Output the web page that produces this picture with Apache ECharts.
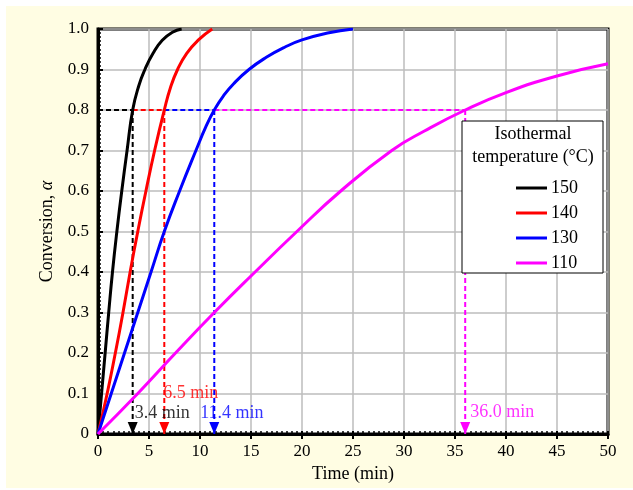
<!DOCTYPE html>
<html lang="en">
<head>
<meta charset="UTF-8">
<title>Conversion vs time</title>
<script src="https://cdn.jsdelivr.net/npm/echarts@6/dist/echarts.min.js"></script>
<style>
    body { margin: 0; background: #fff; }
    #bg { position: absolute; left: 6px; top: 6px; width: 627px; height: 482px; background: #FFFDE3; }
    #chart { position: absolute; left: 0; top: 0; width: 633px; height: 490px; }
</style>
</head>
<body>
<div id="bg"></div>
<div id="chart"></div>
<script>
// curves: time (min) / conversion
var t150 = [0, 0.35, 0.7, 1.05, 1.42, 1.85, 2.33, 2.85, 3.4, 4.0, 4.6, 5.4, 6.3, 7.3, 8.2];
var a150 = [0, 0.1, 0.2, 0.3, 0.4, 0.5, 0.6, 0.7, 0.8, 0.86, 0.9, 0.94, 0.972, 0.992, 1.0];
var t140 = [0, 0.9, 1.7, 2.45, 3.15, 3.9, 4.7, 5.55, 6.5, 7.1, 7.8, 8.7, 9.85, 11.2];
var a140 = [0, 0.1, 0.2, 0.3, 0.4, 0.5, 0.6, 0.7, 0.8, 0.855, 0.9, 0.94, 0.973, 1.0];
var t130 = [0, 1.3, 2.6, 3.9, 5.2, 6.5, 8.0, 9.6, 10.6, 11.4, 12.3, 13.3, 14.8, 16.5, 18.3, 20, 22.5, 25];
var a130 = [0, 0.1, 0.2, 0.3, 0.4, 0.5, 0.6, 0.7, 0.76, 0.8, 0.835, 0.865, 0.9, 0.93, 0.955, 0.973, 0.99, 1.0];
var t110 = [0, 3.9, 7.6, 11.4, 15.4, 19.5, 23.8, 28.8, 32, 36, 40, 45, 50];
var a110 = [0, 0.1, 0.2, 0.3, 0.4, 0.5, 0.6, 0.7, 0.748, 0.8, 0.843, 0.884, 0.914];

var names = ['150', '140', '130', '110'];
var colors = ['#000000', '#FF0000', '#0000FF', '#FF00FF'];
// time to reach conversion 0.8
var refLevel = 0.8;
var refTimes = [3.4, 6.5, 11.4, 36.0];
var refLabels = ['3.4 min', '6.5 min', '11.4 min', '36.0 min'];
// label offsets in px from the arrow tip
var labelOffsets = [[2, -21], [-1, -41], [-14, -21], [5, -22]];

var times = [t150, t140, t130, t110];
var alphas = [a150, a140, a130, a110];
var serif = 'Liberation Serif';

function pairs(t, a) {
    var out = [];
    for (var i = 0; i < t.length; i++) out.push([t[i], a[i]]);
    return out;
}

var series = [];
var dash = [5, 3];
for (var k = 0; k < 4; k++) {
    var start = k === 0 ? 0 : refTimes[k - 1];
    // horizontal dashed at 0.8
    series.push({
        type: 'line', symbol: 'none', silent: true, z: 3,
        data: [[start, refLevel], [refTimes[k], refLevel]],
        lineStyle: { color: colors[k], width: 2, type: dash }
    });
    // vertical dashed with arrow at the bottom
    series.push({
        type: 'line', silent: true, z: 3, showSymbol: true, clip: false,
        data: [
            { value: [refTimes[k], refLevel], symbol: 'none' },
            { value: [refTimes[k], 0], symbol: 'triangle', symbolRotate: 180, symbolSize: [10, 12], symbolOffset: [0, -6] }
        ],
        itemStyle: { color: colors[k] },
        lineStyle: { color: colors[k], width: 2, type: dash }
    });
    // label
    series.push({
        type: 'scatter', symbolSize: 0, silent: true, z: 6, clip: false,
        data: [[refTimes[k], 0]],
        label: {
            show: true, formatter: refLabels[k], position: labelOffsets[k],
            align: 'left', verticalAlign: 'middle',
            color: colors[k], fontFamily: serif, fontSize: 18
        }
    });
}
for (var k = 0; k < 4; k++) {
    series.push({
        name: names[k], type: 'line', symbol: 'none', smooth: 0.5, z: 4,
        data: pairs(times[k], alphas[k]),
        itemStyle: { color: colors[k] },
        lineStyle: { color: colors[k], width: 3 }
    });
}

var chart = echarts.init(document.getElementById('chart'));
chart.setOption({
    backgroundColor: 'transparent',
    animation: false,
    grid: { left: 98, top: 29, width: 510, height: 405, show: true, borderColor: '#000', borderWidth: 3, backgroundColor: '#fff' },
    xAxis: [{
        type: 'value', min: 0, max: 50, interval: 5,
        name: 'Time (min)', nameLocation: 'middle', nameGap: 30,
        nameTextStyle: { fontFamily: serif, fontSize: 18, color: '#000' },
        axisLine: { lineStyle: { color: '#000', width: 3 } },
        axisTick: { inside: true, length: 3, lineStyle: { color: '#000', width: 2 } },
        minorTick: { show: true, splitNumber: 10, length: 3, lineStyle: { color: '#000', width: 1.5 } },
        axisLabel: { fontFamily: serif, fontSize: 17, color: '#000', margin: 9 },
        splitLine: { lineStyle: { color: '#BDBDBD', width: 1.5 } }
    }, {
        type: 'value', min: 0, max: 50, interval: 5, position: 'bottom',
        axisLine: { show: false },
        axisTick: { inside: false, length: 5, lineStyle: { color: '#000', width: 2 } },
        axisLabel: { show: false },
        splitLine: { show: false }
    }],
    yAxis: {
        type: 'value', min: 0, max: 1, interval: 0.1,
        name: '{a|Conversion, }{b|α}', nameLocation: 'middle', nameGap: 42,
        nameTextStyle: {
            rich: {
                a: { fontFamily: serif, fontSize: 18, color: '#000' },
                b: { fontFamily: serif, fontSize: 18, color: '#000', fontStyle: 'italic' }
            }
        },
        axisLine: { lineStyle: { color: '#000', width: 3 } },
        axisTick: { inside: true, length: 5, lineStyle: { color: '#000', width: 2 } },
        minorTick: { show: true, splitNumber: 10, length: 3, lineStyle: { color: '#000', width: 1.5 } },
        axisLabel: {
            fontFamily: serif, fontSize: 17, color: '#000', margin: 9,
            formatter: function (v) { return v === 0 ? '0' : v.toFixed(1); }
        },
        splitLine: { lineStyle: { color: '#BDBDBD', width: 1.5 } }
    },
    legend: {
        data: names, orient: 'vertical', left: 511, top: 173, z: 60,
        icon: 'rect', itemWidth: 31, itemHeight: 3, itemGap: 5,
        textStyle: { fontFamily: serif, fontSize: 18, color: '#000', lineHeight: 20, padding: [0, 0, 0, -1] }
    },
    graphic: [
        { type: 'rect', z: 50, shape: { x: 462, y: 121, width: 141, height: 152 }, style: { fill: '#fff', stroke: '#000', lineWidth: 1 } },
        { type: 'text', z: 51, x: 533, y: 134, style: { text: 'Isothermal', fontFamily: serif, fontSize: 18, fill: '#000', align: 'center', verticalAlign: 'middle' } },
        { type: 'text', z: 51, x: 533, y: 157, style: { text: 'temperature (°C)', fontFamily: serif, fontSize: 18, fill: '#000', align: 'center', verticalAlign: 'middle' } }
    ],
    series: series
});
</script>
</body>
</html>
